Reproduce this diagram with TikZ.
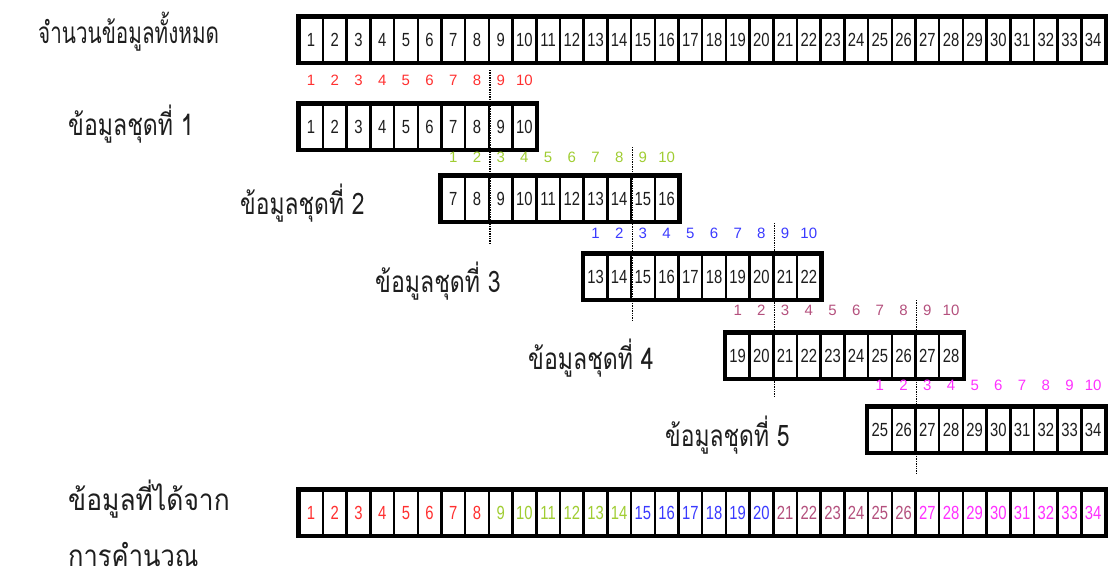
\documentclass[tikz,border=0pt]{standalone}
\usepackage{fontspec}
\setmainfont{Liberation Sans}
\newfontfamily\thaifont[Script=Thai]{Loma}
\usetikzlibrary{calc}
\definecolor{cred}{RGB}{255,48,48}
\definecolor{cgreen}{RGB}{160,205,50}
\definecolor{cblue}{RGB}{58,58,255}
\definecolor{cmauve}{RGB}{180,80,125}
\definecolor{cmag}{RGB}{255,48,255}
\definecolor{ink}{RGB}{30,30,30}
\tikzset{
 cell/.style={draw=black, line width=2.5pt, fill=white, minimum width=23.7pt, minimum height=45pt, inner sep=0pt, anchor=north west, text=ink, font=\fontsize{19}{19}\selectfont},
 frame/.style={draw=black, line width=3.8pt},
 idx/.style={font=\fontsize{15}{15}\selectfont, inner sep=0pt},
 cut/.style={densely dotted, line width=1.4pt},
 lbl/.style={font=\thaifont\fontsize{22}{22}\selectfont, anchor=base west, inner sep=0pt, text=ink}
}
\newcommand{\sq}[1]{\scalebox{0.78}[1]{#1}}
\newcommand{\tl}[2]{\scalebox{#1}[1.35]{#2}}
\begin{document}
\begin{tikzpicture}[x=1pt,y=-1pt]
\useasboundingbox (0,0) rectangle (1111,570);
\clip (0,0) rectangle (1111,570);
% all data
\foreach \i in {1,...,34}{
  \pgfmathsetmacro\xx{298+(\i-1)*23.7}
  \node[cell] (t\i) at (\xx,16) {\sq{\i}};
}
\draw[frame] (t1.north west) rectangle (t34.south east);
% subsets
\foreach \r/\s/\yy/\ly/\c in {1/1/103/80/cred, 2/7/175/157/cgreen, 3/13/253/233/cblue, 4/19/332/310/cmauve, 5/25/406/385/cmag}{
  \foreach \k in {1,...,10}{
    \pgfmathtruncatemacro\g{\s+\k-1}
    \pgfmathsetmacro\xx{298+(\g-1)*23.7}
    \node[cell] (r\r c\k) at (\xx,\yy) {\sq{\g}};
    \node[idx,text=\c] (i\r n\k) at ($(r\r c\k.north)+(0,\ly-\yy)$) {\k};
  }
  \draw[frame] (r\r c1.north west) rectangle (r\r c10.south east);
}
% result row
\foreach \i/\c in {1/cred,2/cred,3/cred,4/cred,5/cred,6/cred,7/cred,8/cred,
  9/cgreen,10/cgreen,11/cgreen,12/cgreen,13/cgreen,14/cgreen,
  15/cblue,16/cblue,17/cblue,18/cblue,19/cblue,20/cblue,
  21/cmauve,22/cmauve,23/cmauve,24/cmauve,25/cmauve,26/cmauve,
  27/cmag,28/cmag,29/cmag,30/cmag,31/cmag,32/cmag,33/cmag,34/cmag}{
  \pgfmathsetmacro\xx{298+(\i-1)*23.7}
  \node[cell,text=\c] (b\i) at (\xx,489) {\sq{\i}};
}
\draw[frame] (b1.north west) rectangle (b34.south east);
% dotted cut lines
\foreach \r/\ya/\yb in {1/70/245, 2/147/320, 3/223/398, 4/300/475}{
  \coordinate (ya\r) at (0,\ya);
  \coordinate (yb\r) at (0,\yb);
  \coordinate (da\r) at (r\r c8.north east |- ya\r);
  \coordinate (db\r) at (r\r c8.north east |- yb\r);
  \draw[cut] (da\r) -- (db\r);
}
% labels
\node[lbl] (l0) at (38,43) {\tl{0.94}{จำนวนข้อมูลทั้งหมด}};
\node[lbl] (l1) at (68,135) {\tl{1.05}{ข้อมูลชุดที่ 1}};
\node[lbl] (l2) at (240,214) {\tl{1.04}{ข้อมูลชุดที่ 2}};
\node[lbl] (l3) at (375,292) {\tl{1.05}{ข้อมูลชุดที่ 3}};
\node[lbl] (l4) at (528,369) {\tl{1.05}{ข้อมูลชุดที่ 4}};
\node[lbl] (l5) at (665,446) {\tl{1.04}{ข้อมูลชุดที่ 5}};
\node[lbl] (l6) at (68,510) {\tl{1.2}{ข้อมูลที่ได้จาก}};
\node[lbl] (l7) at (68,566) {\tl{1.16}{การคำนวณ}};
\end{tikzpicture}
\end{document}
